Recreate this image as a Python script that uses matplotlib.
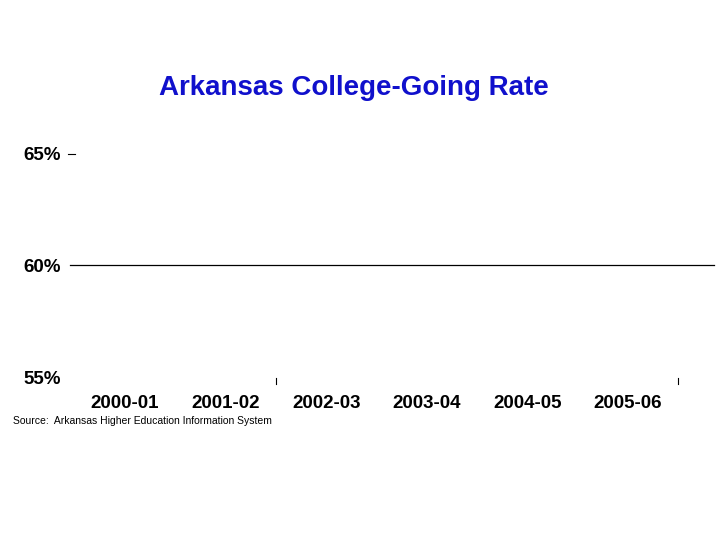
import matplotlib

matplotlib.use("Agg")
import matplotlib.pyplot as plt  # noqa: E402
from matplotlib.lines import Line2D  # noqa: E402

plt.rcParams["font.family"] = ["Liberation Sans", "DejaVu Sans"]

YEARS = ["2000-01", "2001-02", "2002-03", "2003-04", "2004-05", "2005-06"]
Y_TICKS = [0.55, 0.60, 0.65]
Y_LABELS = ["55%", "60%", "65%"]
GRID_AT = 0.60
TITLE = "Arkansas College-Going Rate"
SOURCE = "Source:  Arkansas Higher Education Information System"

W, H = 720, 540
fig = plt.figure(figsize=(W / 100, H / 100), dpi=100)
ax = fig.add_axes([74.7 / W, 1 - 377 / H, (678.3 - 74.7) / W, (377 - 154) / H])
ax.set_xlim(-0.5, len(YEARS) - 0.5)
ax.set_ylim(Y_TICKS[0], Y_TICKS[-1])
for s in ax.spines.values():
    s.set_visible(False)

ax.set_xticks(range(len(YEARS)))
ax.set_xticklabels(YEARS, fontsize=13.5, fontweight="bold")
ax.tick_params(axis="x", length=0, pad=13)
ax.set_yticks(Y_TICKS)
ax.set_yticklabels(Y_LABELS, fontsize=13.5, fontweight="bold")
ax.tick_params(axis="y", length=0, pad=10)

# stray tick marks left in the original
ax.plot([-0.565, -0.495], [0.65, 0.65], color="black", lw=0.8, clip_on=False)
for xv in (1.5, 5.5):
    ax.plot([xv, xv], [0.5495, 0.5468], color="black", lw=0.8, clip_on=False)

# gridline at 60% runs past the plot area to the right
y60 = 1 - 265 / H
fig.add_artist(Line2D([70 / W, 714 / W], [y60, y60], color="black", lw=0.9))

fig.text(354 / W, 1 - 88 / H, TITLE, ha="center", va="center",
         fontsize=20, fontweight="bold", color="#1010cc")
fig.text(13 / W, 1 - 421 / H, SOURCE, ha="left", va="center",
         fontsize=7.5, color="black")

fig.savefig("out.png", dpi=100)
